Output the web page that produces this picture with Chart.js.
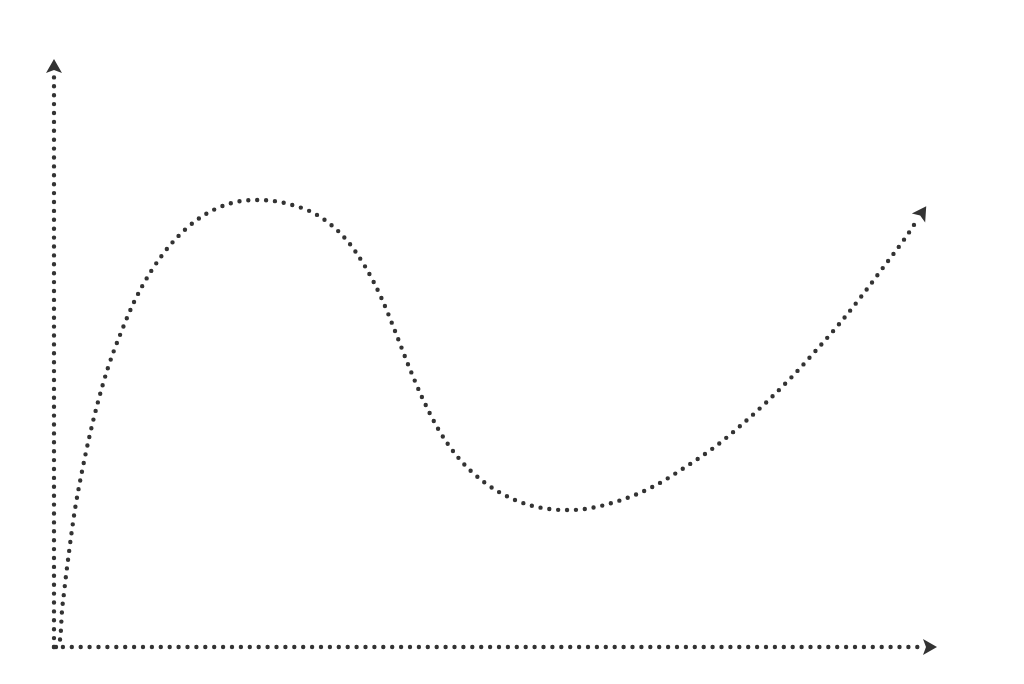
<!DOCTYPE html>
<html>
<head>
<meta charset="utf-8">
<title>Dotted curve</title>
<script src="https://cdn.jsdelivr.net/npm/chart.js@4"></script>
<style>
  html, body { margin: 0; padding: 0; background: #fff; }
  #wrap { width: 1024px; height: 684px; }
</style>
</head>
<body>
<div id="wrap"><canvas id="chart" width="1024" height="684"></canvas></div>
<script>
// --- Data (origin at bottom-left of the axes) ---
const xMax = 883;
const yMax = 590;

// axis lines end where the arrowheads start
const xAxisEnd = 869;
const yAxisEnd = 574;

const curveX = [2, 6.3, 8, 10, 12, 14.3, 17.7, 21.7, 28.3, 35.7, 44.3, 54.3, 66.7, 81, 98.3,
  120, 146.7, 178.7, 205, 231.7, 264.3, 291.7, 312, 328, 341.7, 354.7, 368.7, 385, 405.7,
  431.7, 462.7, 497.3, 515, 533, 567.3, 600.3, 631, 660.3, 687.7, 714, 739, 763, 786.3,
  808.7, 830.3, 851.7, 864.5];
const curveY = [0, 9, 36, 54, 71.3, 89.3, 115.3, 142, 177, 211.7, 246.3, 280.3, 313.7, 347, 377.7,
  406.3, 429.7, 444.3, 447, 443.7, 431.3, 408, 379, 347.7, 314.3, 281, 248.3, 216.7, 187.7,
  163.7, 146.3, 137.7, 137, 138.3, 147, 161, 179.7, 199.7, 222.3, 246.3, 271.3, 297.7, 324.3,
  352.3, 381, 409.7, 429];

const ink = "#333333";

// --- Arrowhead plugin: draws a head at the last point of flagged datasets ---
const arrowHeads = {
  id: "arrowHeads",
  afterDatasetsDraw(chart) {
    const ctx = chart.ctx;
    chart.data.datasets.forEach((ds, i) => {
      if (!ds.arrow) return;
      const pts = chart.getDatasetMeta(i).data;
      const p = pts[pts.length - 1];
      const q = pts[pts.length - 2];
      const ang = Math.atan2(p.y - q.y, p.x - q.x);
      const len = 14, half = 8, notch = 3;
      ctx.save();
      ctx.translate(p.x, p.y);
      ctx.rotate(ang);
      ctx.beginPath();
      ctx.moveTo(len, 0);
      ctx.lineTo(0, -half);
      ctx.lineTo(notch, 0);
      ctx.lineTo(0, half);
      ctx.closePath();
      ctx.fillStyle = ink;
      ctx.fill();
      ctx.restore();
    });
  },
};

const dotted = {
  borderColor: ink,
  borderWidth: 4.4,
  borderDash: [0, 8.9],
  borderCapStyle: "round",
  pointRadius: 0,
  fill: false,
  clip: false,
  arrow: true,
};

new Chart(document.getElementById("chart"), {
  type: "line",
  data: {
    datasets: [
      { ...dotted, data: [{ x: 0, y: 0 }, { x: 0, y: yAxisEnd }] },
      { ...dotted, data: [{ x: 0, y: 0 }, { x: xAxisEnd, y: 0 }] },
      {
        ...dotted,
        data: curveX.map((x, i) => ({ x, y: curveY[i] })),
        cubicInterpolationMode: "monotone",
      },
    ],
  },
  options: {
    responsive: false,
    animation: false,
    layout: { padding: { left: 54, right: 87, top: 57, bottom: 37 } },
    scales: {
      x: { type: "linear", min: 0, max: xMax, display: false },
      y: { type: "linear", min: 0, max: yMax, display: false },
    },
    plugins: { legend: { display: false }, tooltip: { enabled: false } },
  },
  plugins: [arrowHeads],
});
</script>
</body>
</html>
